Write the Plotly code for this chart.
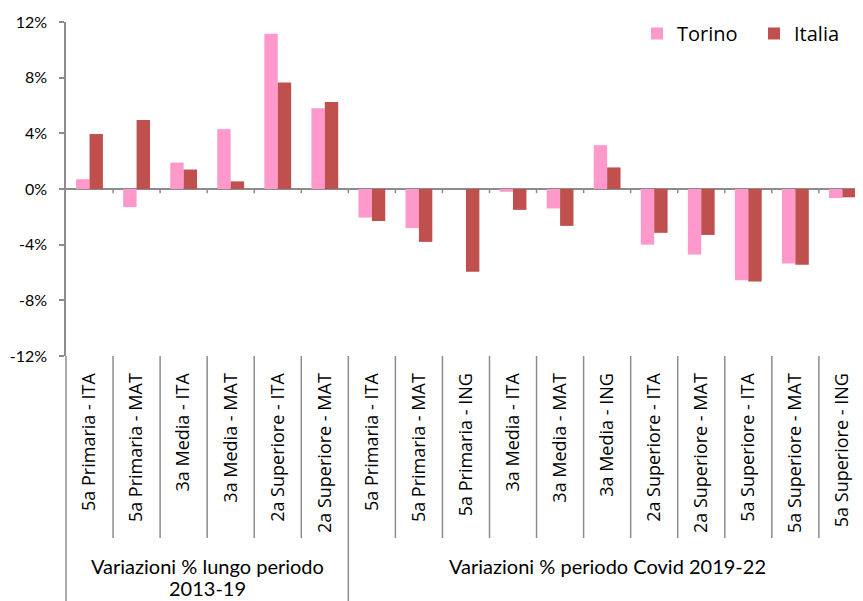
import plotly.graph_objects as go

categories = [
    "5a Primaria - ITA", "5a Primaria - MAT", "3a Media - ITA", "3a Media - MAT",
    "2a Superiore - ITA", "2a Superiore - MAT",
    "5a Primaria - ITA", "5a Primaria - MAT", "5a Primaria - ING",
    "3a Media - ITA", "3a Media - MAT", "3a Media - ING",
    "2a Superiore - ITA", "2a Superiore - MAT",
    "5a Superiore - ITA", "5a Superiore - MAT", "5a Superiore - ING",
]
torino = [0.7, -1.3, 1.9, 4.3, 11.15, 5.8,
          -2.05, -2.8, 0.0, -0.2, -1.4, 3.15, -4.0, -4.7, -6.55, -5.35, -0.65]
italia = [3.95, 4.95, 1.4, 0.55, 7.65, 6.25,
          -2.3, -3.8, -5.95, -1.5, -2.65, 1.55, -3.15, -3.3, -6.65, -5.45, -0.6]
groups = [["Variazioni % lungo periodo", "2013-19"], ["Variazioni % periodo Covid 2019-22"]]
group_sizes = [6, 11]
y_tick_vals = [-12, -8, -4, 0, 4, 8, 12]
y_tick_text = ["-12%", "-8%", "-4%", "0%", "4%", "8%", "12%"]

x = list(range(len(categories)))
AX = "#8c8c8c"

fig = go.Figure()
fig.add_trace(go.Bar(x=x, y=torino, name="Torino", marker=dict(color="#FF99CC", line=dict(width=0))))
fig.add_trace(go.Bar(x=x, y=italia, name="Italia", marker=dict(color="#C0504D", line=dict(width=0))))

shapes = []
# y axis extension downward
shapes.append(dict(type="line", xref="paper", yref="paper", x0=0, x1=0, y0=0, y1=-0.76,
                   line=dict(color=AX, width=1.5)))
start = 0
group_bounds = set()
for s in group_sizes:
    start += s
    group_bounds.add(start - 0.5)
for k in range(len(categories)):
    b = k + 0.5
    # small ticks on zero line
    shapes.append(dict(type="line", xref="x", yref="y", x0=b, x1=b, y0=0, y1=-0.3,
                       line=dict(color=AX, width=1.5)))
    if b in group_bounds and b < len(categories) - 0.5:
        y1 = -0.76
    else:
        y1 = -0.545
    shapes.append(dict(type="line", xref="x", yref="paper", x0=b, x1=b, y0=0, y1=y1,
                       line=dict(color=AX, width=1.5)))

annotations = []
start = 0
for lines, s in zip(groups, group_sizes):
    c = start + (s - 1) / 2
    for i, line in enumerate(lines):
        annotations.append(dict(x=c, y=0, xref="x", yref="paper", text=line, showarrow=False,
                                yanchor="middle", yshift=-210 - 22 * i,
                                borderpad=0,
                                font=dict(family="Lato", size=20, color="#000000")))
    start += s

fig.update_layout(
    width=863, height=601, autosize=False,
    margin=dict(l=58, r=0, t=14, b=253, pad=0),
    plot_bgcolor="white", paper_bgcolor="white",
    barmode="group", bargap=0.43, bargroupgap=0,
    shapes=shapes, annotations=annotations,
    legend=dict(orientation="h", x=0.715, y=1.024, xanchor="left", yanchor="top",
                entrywidth=72, entrywidthmode="pixels",
                font=dict(family="Open Sans", size=20, color="#000000"),
                bgcolor="rgba(0,0,0,0)"),
    xaxis=dict(range=[-0.5, 16.48], tickvals=x, ticktext=categories, tickangle=-90,
               ticks="outside", ticklen=9, tickcolor="rgba(0,0,0,0)",
               showline=False, showgrid=False, zeroline=False, automargin=False,
               tickfont=dict(family="Open Sans", size=18, color="#000000")),
    yaxis=dict(range=[-12, 12], tickvals=y_tick_vals, ticktext=y_tick_text,
               ticks="outside", ticklen=5, tickcolor=AX, tickwidth=1.5,
               showline=True, linecolor=AX, linewidth=1.5,
               showgrid=False, zeroline=True, zerolinecolor=AX, zerolinewidth=2,
               ticklabelstandoff=9, automargin=False,
               tickfont=dict(family="Lato", size=16, color="#000000")),
)

fig.write_html("out.html")
